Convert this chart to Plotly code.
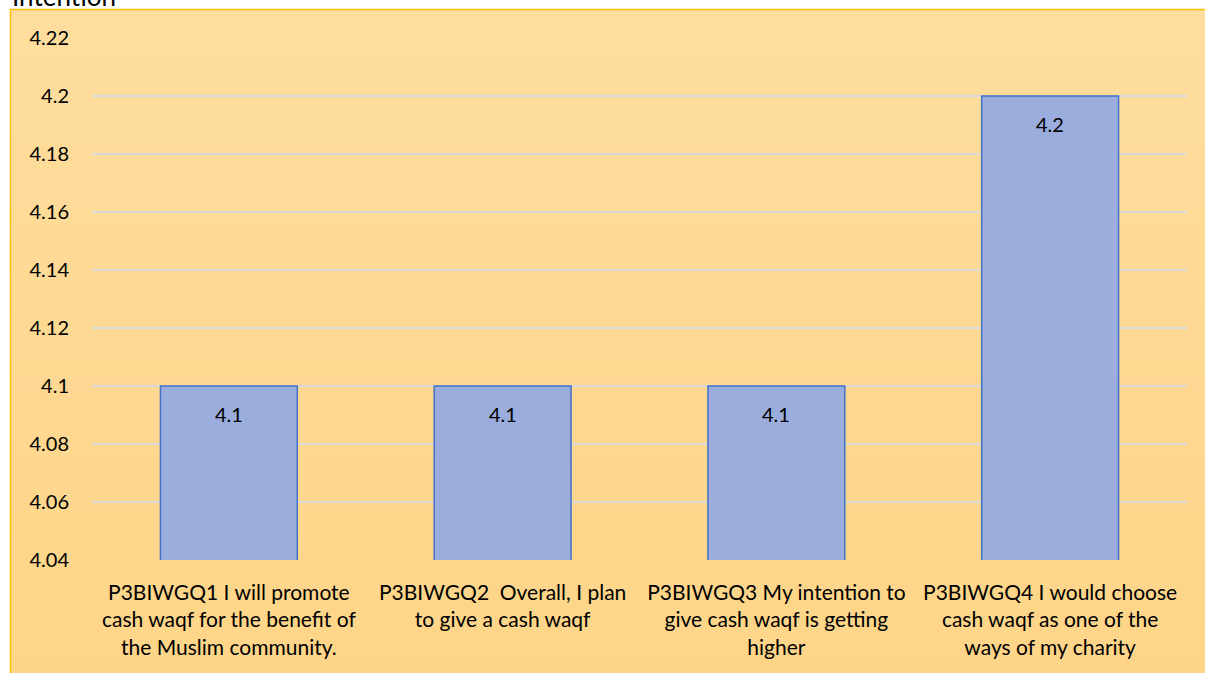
import plotly.graph_objects as go

categories = [
    "P3BIWGQ1 I will promote<br>cash waqf for the benefit of<br>the Muslim community.",
    "P3BIWGQ2  Overall, I plan<br>to give a cash waqf",
    "P3BIWGQ3 My intention to<br>give cash waqf is getting<br>higher",
    "P3BIWGQ4 I would choose<br>cash waqf as one of the<br>ways of my charity",
]
values = [4.1, 4.1, 4.1, 4.2]
tick_vals = [4.04, 4.06, 4.08, 4.10, 4.12, 4.14, 4.16, 4.18, 4.20, 4.22]
tick_text = ["4.04", "4.06", "4.08", "4.1", "4.12", "4.14", "4.16", "4.18", "4.2", "4.22"]
title_text = "Intention"

W, H = 1205, 673
L, R, T, B = 92, 18, 38, 113
pw, ph = W - L - R, H - T - B

def px_x(p):
    return (p - L) / pw

def px_y(p):
    return (H - B - p) / ph

FONT = "Lato"

fig = go.Figure()
fig.add_trace(go.Bar(
    x=categories, y=values,
    marker=dict(color="#9AADDC", line=dict(color="#4472C4", width=1.5)),
    width=0.5,
    hoverinfo="skip",
))

shapes = []
# gradient background (stripes)
top_c = (254, 221, 158)
bot_c = (254, 213, 136)
n = 40
y_top, y_bot = 9, 673
for i in range(n):
    t = i / (n - 1)
    c = tuple(int(round(top_c[k] + (bot_c[k] - top_c[k]) * t)) for k in range(3))
    p0 = y_top + (y_bot - y_top) * i / n
    p1 = y_top + (y_bot - y_top) * (i + 1) / n + 1
    shapes.append(dict(type="rect", xref="paper", yref="paper",
                       x0=px_x(10), x1=px_x(1210), y0=px_y(p1), y1=px_y(p0),
                       fillcolor="rgb(%d,%d,%d)" % c, line=dict(width=0), layer="below"))
# border
shapes.append(dict(type="rect", xref="paper", yref="paper",
                   x0=px_x(10.5), x1=px_x(1215), y0=px_y(690), y1=px_y(9.5),
                   fillcolor="rgba(0,0,0,0)", line=dict(color="#FFC000", width=1.5), layer="below"))

annotations = []
for c, v in zip(categories, values):
    annotations.append(dict(x=c, y=v, xref="x", yref="y", text=str(v),
                            showarrow=False, yanchor="top", yshift=-14,
                            font=dict(family=FONT, size=20, color="#000000")))
annotations.append(dict(x=px_x(10), y=px_y(14), xref="paper", yref="paper",
                        text=title_text, showarrow=False, xanchor="left", yanchor="bottom",
                        font=dict(family=FONT, size=26, color="#000000")))

fig.update_layout(
    width=W, height=H,
    margin=dict(l=L, r=R, t=T, b=B, pad=0),
    paper_bgcolor="#FFFFFF",
    plot_bgcolor="rgba(0,0,0,0)",
    bargap=0.5,
    showlegend=False,
    shapes=shapes,
    annotations=annotations,
    font=dict(family=FONT, size=20, color="#000000"),
    xaxis=dict(showgrid=False, showline=False, ticks="", tickfont=dict(size=21, family=FONT),
               tickangle=0, ticklabelstandoff=18),
    yaxis=dict(range=[4.04, 4.22], tickvals=tick_vals, ticktext=tick_text,
               showgrid=True, gridcolor="#D9D9D9", gridwidth=1.5, zeroline=False,
               showline=False, ticks="", ticklabelstandoff=22,
               tickfont=dict(size=20, family=FONT)),
)

fig.write_html("out.html")
